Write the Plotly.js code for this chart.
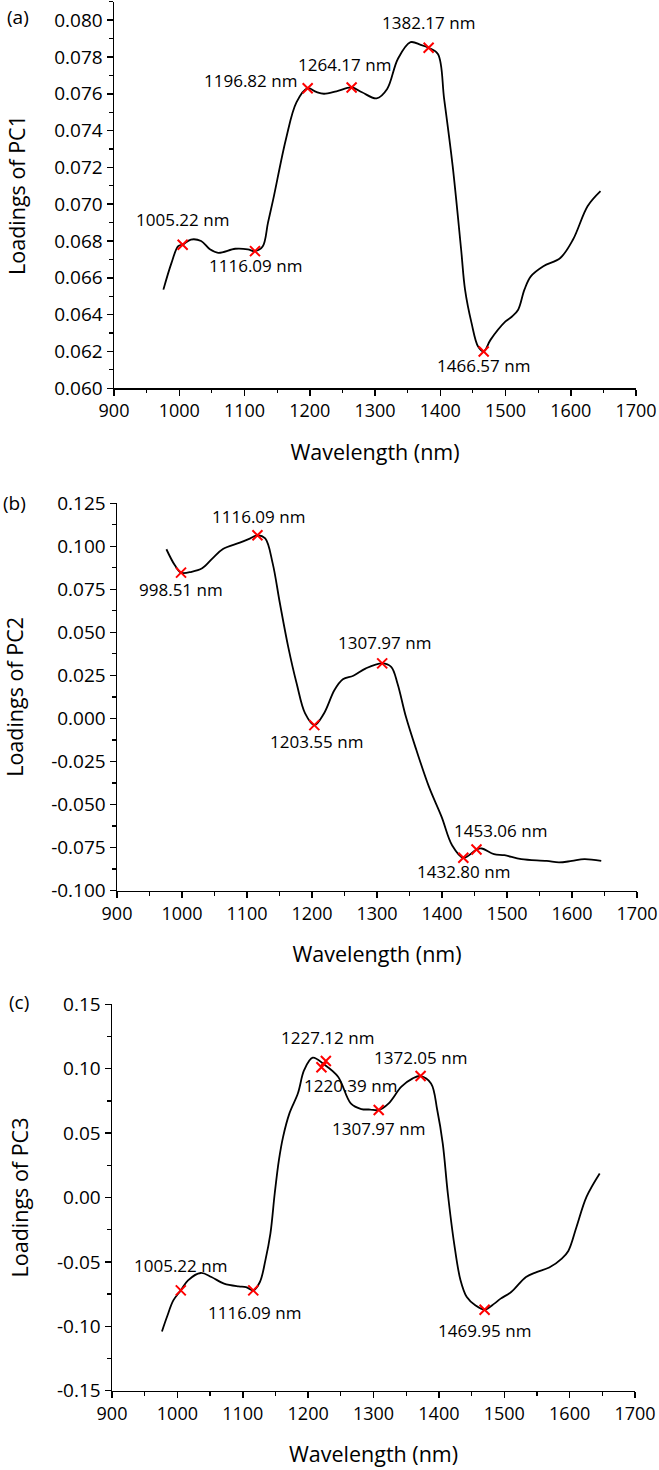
<!DOCTYPE html>
<html><head><meta charset="utf-8">
<script src="https://cdn.plot.ly/plotly-3.0.1.min.js"></script>
<style>html,body{margin:0;padding:0;background:#fff}#chart{width:659px;height:1470px}</style>
</head><body><div id="chart"></div>
<script>
// ---------- DATA ----------
// Panel (a) PC1 loadings
const wlA = [975.7, 988, 998.4, 1005.22, 1017.8, 1033.5, 1047, 1059.8, 1085.8, 1105, 1116.09, 1127.8, 1136, 1144, 1163.5, 1179.6, 1196.82, 1210, 1221.7, 1241, 1264.17, 1280, 1302.5, 1318.6, 1335, 1354.4, 1370, 1382.17, 1396.4, 1406, 1419, 1432, 1438, 1448, 1458, 1466.57, 1477, 1500, 1510, 1519.4, 1529, 1538.8, 1558, 1584, 1603.5, 1626, 1645.6];
const pc1 = [0.06536, 0.0668, 0.06772, 0.0678, 0.06808, 0.0680, 0.06755, 0.06736, 0.06758, 0.06755, 0.06745, 0.0677, 0.0690, 0.07026, 0.07353, 0.07553, 0.0763, 0.0761, 0.0760, 0.07613, 0.07634, 0.07608, 0.07575, 0.07626, 0.07789, 0.0788, 0.07866, 0.0785, 0.07816, 0.07571, 0.07208, 0.06754, 0.06536, 0.06354, 0.06227, 0.0620, 0.06263, 0.06363, 0.0639, 0.06427, 0.06536, 0.06608, 0.06663, 0.06708, 0.06808, 0.0699, 0.07071];
const peakWlA = [1005.22, 1116.09, 1196.82, 1264.17, 1382.17, 1466.57];
const peakValA = [0.0678, 0.06745, 0.0763, 0.07634, 0.0785, 0.0620];
const peakLabelA = ['1005.22 nm', '1116.09 nm', '1196.82 nm', '1264.17 nm', '1382.17 nm', '1466.57 nm'];

// Panel (b) PC2 loadings
const wlB = [976, 988.8, 998.51, 1014.8, 1031, 1047, 1063, 1089, 1105, 1116.09, 1128, 1139.5, 1150.6, 1163.4, 1176.4, 1189.4, 1203.55, 1218.4, 1234.6, 1247.5, 1263.6, 1283, 1307.97, 1321.8, 1331.5, 1344.5, 1360.6, 1380, 1399.4, 1415.5, 1432.8, 1453.06, 1461, 1480, 1496, 1522, 1561, 1580, 1600, 1619, 1645];
const pc2 = [0.0983, 0.0891, 0.0847, 0.0852, 0.0872, 0.0930, 0.0984, 0.1021, 0.1046, 0.1064, 0.1046, 0.0901, 0.0669, 0.0416, 0.0203, 0.0029, -0.0039, 0.0029, 0.0165, 0.0227, 0.0248, 0.0291, 0.0320, 0.0300, 0.0203, 0.0009, -0.0184, -0.0398, -0.0572, -0.0737, -0.0810, -0.0762, -0.0756, -0.0789, -0.0795, -0.0818, -0.0828, -0.0837, -0.0828, -0.0818, -0.0828];
const peakWlB = [998.51, 1116.09, 1203.55, 1307.97, 1432.80, 1453.06];
const peakValB = [0.0847, 0.1064, -0.0039, 0.0320, -0.0810, -0.0762];
const peakLabelB = ['998.51 nm', '1116.09 nm', '1203.55 nm', '1307.97 nm', '1432.80 nm', '1453.06 nm'];

// Panel (c) PC3 loadings
const wlC = [976.4, 984, 993.8, 1005.22, 1016.3, 1035.7, 1052, 1071.4, 1093.8, 1105, 1116.09, 1126.2, 1134.6, 1142.3, 1148.9, 1155.3, 1161.7, 1171.4, 1184.4, 1194, 1207, 1224, 1245.8, 1265.2, 1281.3, 1295, 1307.97, 1323.3, 1342.7, 1360, 1372.05, 1388, 1397.5, 1405.9, 1413.7, 1423.4, 1433, 1442.7, 1455.7, 1469.95, 1484.8, 1494.5, 1510.6, 1533.3, 1549.4, 1568.8, 1588, 1598, 1610.5, 1625.8, 1646];
const pc3 = [-0.1040, -0.0928, -0.0799, -0.0721, -0.0643, -0.0586, -0.0617, -0.0669, -0.0690, -0.0695, -0.0721, -0.0656, -0.0488, -0.028, 0.0031, 0.0290, 0.0471, 0.0653, 0.0809, 0.0990, 0.1086, 0.1035, 0.0938, 0.0731, 0.0687, 0.0683, 0.0679, 0.0731, 0.0860, 0.0925, 0.0943, 0.0886, 0.0679, 0.042, 0.0031, -0.0358, -0.0640, -0.0773, -0.0837, -0.0871, -0.0824, -0.0785, -0.0734, -0.0617, -0.0579, -0.0544, -0.0474, -0.0415, -0.0229, 0.0005, 0.0187];
const peakWlC = [1005.22, 1116.09, 1220.39, 1227.12, 1307.97, 1372.05, 1469.95];
const peakValC = [-0.0721, -0.0721, 0.1011, 0.1060, 0.0679, 0.0943, -0.0871];
const peakLabelC = ['1005.22 nm', '1116.09 nm', '1220.39 nm', '1227.12 nm', '1307.97 nm', '1372.05 nm', '1469.95 nm'];

// Tick labels
const yTicksA = [0.060, 0.062, 0.064, 0.066, 0.068, 0.070, 0.072, 0.074, 0.076, 0.078, 0.080];
const yTextA = ['0.060', '0.062', '0.064', '0.066', '0.068', '0.070', '0.072', '0.074', '0.076', '0.078', '0.080'];
const yTicksB = [-0.100, -0.075, -0.050, -0.025, 0.000, 0.025, 0.050, 0.075, 0.100, 0.125];
const yTextB = ['-0.100', '-0.075', '-0.050', '-0.025', '0.000', '0.025', '0.050', '0.075', '0.100', '0.125'];
const yTicksC = [-0.15, -0.10, -0.05, 0.00, 0.05, 0.10, 0.15];
const yTextC = ['-0.15', '-0.10', '-0.05', '0.00', '0.05', '0.10', '0.15'];
const xTicks = [900, 1000, 1100, 1200, 1300, 1400, 1500, 1600, 1700];
const xText = ['900', '1000', '1100', '1200', '1300', '1400', '1500', '1600', '1700'];

// ---------- LAYOUT (pixel geometry) ----------
const W = 659, H = 1470;
const FONT = 'Open Sans, Noto Sans, sans-serif';
const xdom = (l, r) => [l / W, r / W];
const ydom = (top, bot) => [1 - bot / H, 1 - top / H];

// label offsets [xshift, yshift] in px
const shiftA = [[0, 25], [0, -14], [-57, 8], [-7, 23], [0, 25], [0, -14]];
const shiftB = [[0, -17], [1, 19], [2, -16], [2, 21], [0, -14], [24, 19]];
const shiftC = [[0, 25], [1, -22], [29, -18], [2, 23], [0, -18], [0, 19], [0, -21]];

function xAxis(dom, anchor) {
  return {
    domain: dom, anchor: anchor, range: [900, 1700],
    tickmode: 'array', tickvals: xTicks, ticktext: xText,
    ticklabeloverflow: 'allow',
    showline: true, linecolor: '#000', linewidth: 1.5,
    ticks: 'outside', ticklen: 6, tickwidth: 1.5, tickcolor: '#000',
    minor: {tickmode: 'linear', tick0: 900, dtick: 50, ticks: 'outside', ticklen: 3.5, tickwidth: 1.2, tickcolor: '#000', showgrid: false},
    showgrid: false, zeroline: false,
    tickfont: {family: FONT, size: 18, color: '#000'},
    title: {text: 'Wavelength (nm)', font: {family: FONT, size: 21.5, color: '#000'}, standoff: 23}
  };
}
function yAxis(dom, anchor, range, tv, tt, minorStep, title) {
  return {
    domain: dom, anchor: anchor, range: range,
    tickmode: 'array', tickvals: tv, ticktext: tt,
    ticklabeloverflow: 'allow',
    showline: true, linecolor: '#000', linewidth: 1.5,
    ticks: 'outside', ticklen: 6, tickwidth: 1.5, tickcolor: '#000',
    minor: {tickmode: 'linear', tick0: range[0], dtick: minorStep, ticks: 'outside', ticklen: 3.5, tickwidth: 1.2, tickcolor: '#000', showgrid: false},
    showgrid: false, zeroline: false,
    tickfont: {family: FONT, size: 19, color: '#000'},
    title: {text: title, font: {family: FONT, size: 21.5, color: '#000'}, standoff: 22}
  };
}

function curve(x, y, xa, ya) {
  return {x: x, y: y, xaxis: xa, yaxis: ya, type: 'scatter', mode: 'lines',
    line: {color: '#000', width: 1.8, shape: 'spline', smoothing: 1}, showlegend: false, hoverinfo: 'skip'};
}
function marks(x, y, xa, ya) {
  return {x: x, y: y, xaxis: xa, yaxis: ya, type: 'scatter', mode: 'markers',
    marker: {symbol: 'x-thin', size: 10, color: '#ff0000', line: {color: '#ff0000', width: 2}}, showlegend: false, hoverinfo: 'skip'};
}
function labels(xs, ys, txt, shifts, xa, ya) {
  return xs.map((x, i) => ({
    x: x, y: ys[i], xref: xa, yref: ya, text: txt[i], showarrow: false,
    xshift: shifts[i][0], yshift: shifts[i][1],
    font: {family: FONT, size: 17, color: '#000'}
  }));
}

const traces = [
  curve(wlA, pc1, 'x', 'y'), marks(peakWlA, peakValA, 'x', 'y'),
  curve(wlB, pc2, 'x2', 'y2'), marks(peakWlB, peakValB, 'x2', 'y2'),
  curve(wlC, pc3, 'x3', 'y3'), marks(peakWlC, peakValC, 'x3', 'y3')
];

const panelLetters = [
  {text: '(a)', x: 17.5, y: 17},
  {text: '(b)', x: 14.5, y: 503},
  {text: '(c)', x: 18.5, y: 1002}
].map(p => ({text: p.text, x: p.x / W, y: 1 - p.y / H, xref: 'paper', yref: 'paper', showarrow: false,
  xanchor: 'center', yanchor: 'middle', font: {family: FONT, size: 19, color: '#000'}}));

const layout = {
  width: W, height: H,
  margin: {l: 0, r: 0, t: 0, b: 0},
  paper_bgcolor: '#fff', plot_bgcolor: '#fff',
  font: {family: FONT, color: '#000'},
  showlegend: false,
  xaxis: xAxis(xdom(114, 636), 'y'),
  yaxis: yAxis(ydom(1.7, 388.3), 'x', [0.060, 0.081], yTicksA, yTextA, 0.001, 'Loadings of PC1'),
  xaxis2: xAxis(xdom(117, 637), 'y2'),
  yaxis2: yAxis(ydom(503.3, 890.5), 'x2', [-0.100, 0.125], yTicksB, yTextB, 0.0125, 'Loadings of PC2'),
  xaxis3: xAxis(xdom(112, 635), 'y3'),
  yaxis3: yAxis(ydom(1004.3, 1390.7), 'x3', [-0.15, 0.15], yTicksC, yTextC, 0.025, 'Loadings of PC3'),
  annotations: [].concat(
    labels(peakWlA, peakValA, peakLabelA, shiftA, 'x', 'y'),
    labels(peakWlB, peakValB, peakLabelB, shiftB, 'x2', 'y2'),
    labels(peakWlC, peakValC, peakLabelC, shiftC, 'x3', 'y3'),
    panelLetters
  )
};

Plotly.newPlot('chart', traces, layout, {staticPlot: true, displayModeBar: false});
</script>
</body></html>
